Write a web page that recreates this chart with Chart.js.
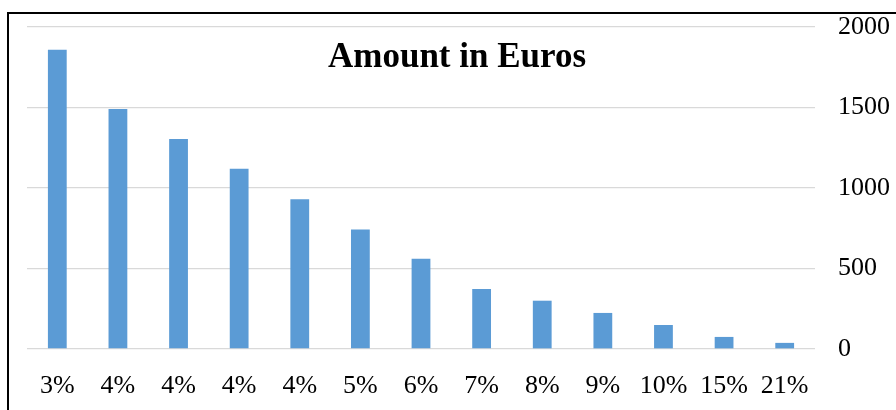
<!DOCTYPE html>
<html>
<head>
<meta charset="utf-8">
<script src="https://cdn.jsdelivr.net/npm/chart.js@4/dist/chart.umd.min.js"></script>
<style>
    html, body { margin: 0; padding: 0; background: #fff; overflow: hidden; }
    #wrap { position: relative; width: 896px; height: 410px; }
    #frame {
        position: absolute; left: 7px; top: 12px;
        width: 900px; height: 410px;
        border: 2px solid #000; box-sizing: border-box;
        pointer-events: none;
    }
    canvas { position: absolute; left: 0; top: 0; }
</style>
</head>
<body>
<div id="wrap">
    <canvas id="chart" width="896" height="410"></canvas>
    <div id="frame"></div>
</div>
<script>
// ── Data ─────────────────────────────────────────
const categories = ['3%', '4%', '4%', '4%', '4%', '5%', '6%', '7%', '8%', '9%', '10%', '15%', '21%'];
const amounts = [1858, 1490, 1305, 1120, 930, 743, 560, 373, 300, 224, 149, 75, 38];
const yTicks = [0, 500, 1000, 1500, 2000];
const chartTitle = 'Amount in Euros';

const FONT = '"Liberation Serif", "Times New Roman", serif';

// title sits inside the plot area, like the original
const innerTitle = {
    id: 'innerTitle',
    afterDraw(chart) {
        const { ctx, chartArea } = chart;
        ctx.save();
        ctx.font = 'bold 35px ' + FONT;
        ctx.fillStyle = '#000';
        ctx.textAlign = 'center';
        ctx.textBaseline = 'alphabetic';
        ctx.fillText(chartTitle, 457, chartArea.top + 40);
        ctx.restore();
    }
};

new Chart(document.getElementById('chart'), {
    type: 'bar',
    data: {
        labels: categories,
        datasets: [{
            data: amounts,
            backgroundColor: '#5B9BD5',
            borderWidth: 0,
            barPercentage: 0.31,
            categoryPercentage: 1.0
        }]
    },
    options: {
        responsive: false,
        animation: false,
        layout: { padding: { left: 27, top: 27, right: 0, bottom: 0 } },
        plugins: {
            legend: { display: false },
            title: { display: false },
            tooltip: { enabled: false }
        },
        scales: {
            x: {
                grid: { display: false, drawTicks: false },
                border: { display: false },
                ticks: {
                    color: '#000',
                    font: { family: FONT, size: 26 },
                    padding: 22,
                    maxRotation: 0,
                    autoSkip: false
                },
                afterFit: s => { s.height = 61; s.paddingLeft = 0; s.paddingRight = 0; }
            },
            y: {
                position: 'right',
                min: 0,
                max: 2000,
                afterBuildTicks: s => { s.ticks = yTicks.map(v => ({ value: v })); },
                grid: { color: '#d9d9d9', lineWidth: 1.3, drawTicks: false },
                border: { display: false },
                ticks: {
                    color: '#000',
                    font: { family: FONT, size: 26 },
                    padding: 23,
                    callback: v => String(v)
                },
                afterFit: s => { s.width = 81; s.paddingTop = 0; s.paddingBottom = 0; }
            }
        }
    },
    plugins: [innerTitle]
});
</script>
</body>
</html>
